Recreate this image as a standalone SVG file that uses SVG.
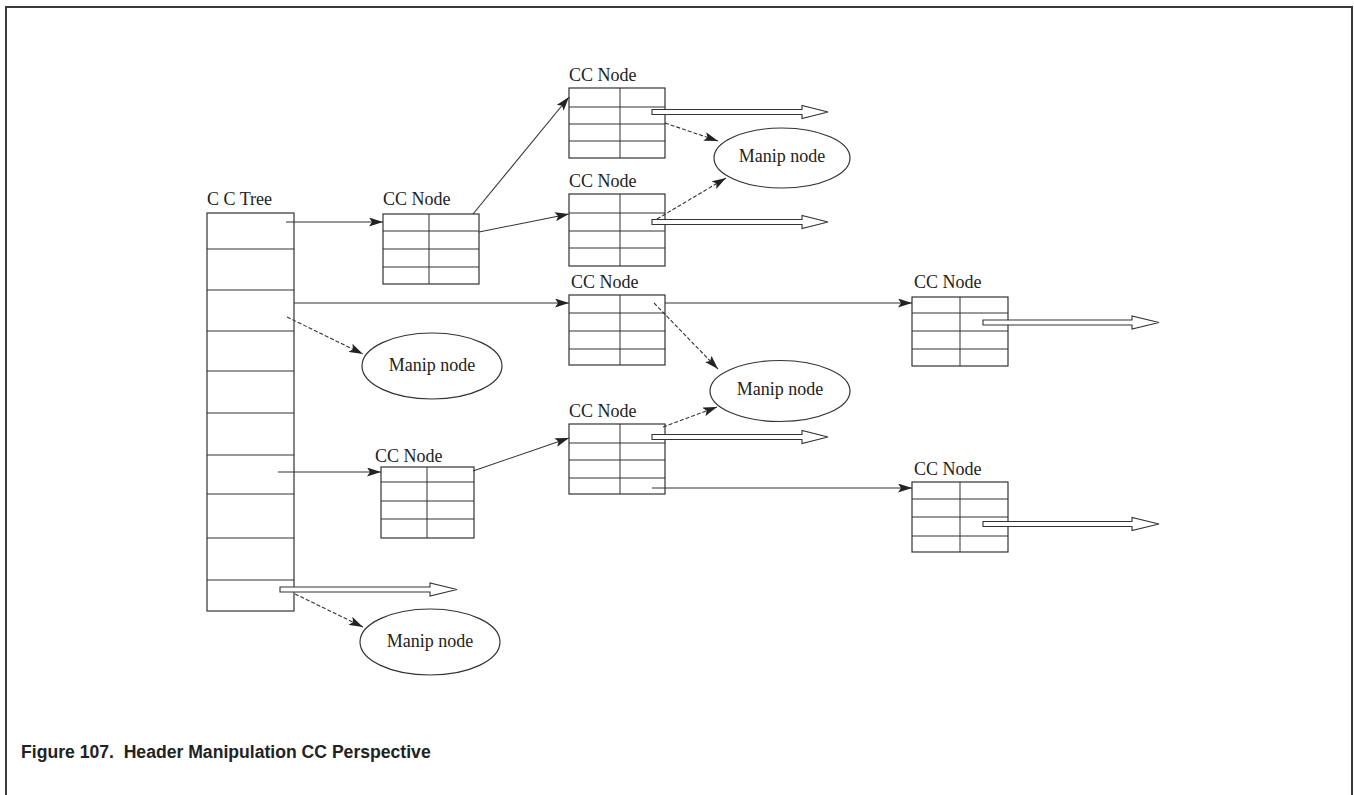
<svg xmlns="http://www.w3.org/2000/svg" width="1354" height="795" viewBox="0 0 1354 795">
<defs>
<style>
.frame{fill:none;stroke:#3a3a3a;stroke-width:2}
.box{fill:#fff;stroke:#333;stroke-width:1.2}
.grid{stroke:#333;stroke-width:1;fill:none}
.lbl{font-family:"Liberation Serif","Times New Roman",serif;font-size:18px;fill:#222}
.mid{text-anchor:middle}
.ell{fill:#fff;stroke:#333;stroke-width:1.2}
.conn{stroke:#333;stroke-width:1.1;fill:none;marker-end:url(#ah)}
.dash{stroke-dasharray:4 2}
.hollow{fill:#fff;stroke:#333;stroke-width:1.1}
.cap{font-family:"Liberation Sans",Arial,sans-serif;font-size:17.6px;font-weight:bold;fill:#222}
</style>
<marker id="ah" viewBox="0 0 14 9" refX="14" refY="4.5" markerWidth="14" markerHeight="9" markerUnits="userSpaceOnUse" orient="auto">
<path d="M0,0 L14,4.5 L0,9 L3,4.5 Z" fill="#222"/>
</marker>
</defs>
<rect width="1354" height="795" fill="#fff"/>
<path class="frame" d="M6,795 V7 H1352 V795"/>

<g id="cc-tree">
<text class="lbl" x="207" y="205">C C Tree</text>
<rect class="box" x="207" y="213" width="87" height="398"/>
<path class="grid" d="M207,249H294M207,290H294M207,331H294M207,371H294M207,413H294M207,455H294M207,494H294M207,538H294M207,580H294"/>
</g>

<g id="cc-node-1">
<text class="lbl" x="383" y="205">CC Node</text>
<rect class="box" x="383" y="214" width="96" height="70"/>
<path class="grid" d="M429,214V284M383,231H479M383,249H479M383,267H479"/>
</g>

<g id="cc-node-top">
<text class="lbl" x="569" y="81">CC Node</text>
<rect class="box" x="569" y="88" width="96" height="70"/>
<path class="grid" d="M620,88V158M569,107H665M569,124H665M569,141H665"/>
</g>

<g id="cc-node-2">
<text class="lbl" x="569" y="187">CC Node</text>
<rect class="box" x="569" y="194" width="96" height="72"/>
<path class="grid" d="M620,194V266M569,213H665M569,231H665M569,248H665"/>
</g>

<g id="cc-node-3">
<text class="lbl" x="571" y="288">CC Node</text>
<rect class="box" x="569" y="295" width="96" height="70"/>
<path class="grid" d="M620,295V365M569,313H665M569,331H665M569,349H665"/>
</g>

<g id="cc-node-4">
<text class="lbl" x="569" y="417">CC Node</text>
<rect class="box" x="569" y="424" width="96" height="70"/>
<path class="grid" d="M620,424V494M569,443H665M569,460H665M569,478H665"/>
</g>

<g id="cc-node-5">
<text class="lbl" x="914" y="288">CC Node</text>
<rect class="box" x="912" y="297" width="96" height="69"/>
<path class="grid" d="M960,297V366M912,313H1008M912,331H1008M912,349H1008"/>
</g>

<g id="cc-node-6">
<text class="lbl" x="914" y="475">CC Node</text>
<rect class="box" x="912" y="482" width="96" height="70"/>
<path class="grid" d="M960,482V552M912,499H1008M912,517H1008M912,536H1008"/>
</g>

<g id="cc-node-7">
<text class="lbl" x="375" y="462">CC Node</text>
<rect class="box" x="381" y="467" width="93" height="71"/>
<path class="grid" d="M427,467V538M381,482H474M381,501H474M381,519H474"/>
</g>

<g id="manip-top">
<ellipse class="ell" cx="782" cy="158" rx="68" ry="30"/>
<text class="lbl mid" x="782" y="162">Manip node</text>
</g>
<g id="manip-mid">
<ellipse class="ell" cx="780" cy="391" rx="70" ry="30.5"/>
<text class="lbl mid" x="780" y="395">Manip node</text>
</g>
<g id="manip-left">
<ellipse class="ell" cx="432" cy="366" rx="70" ry="33"/>
<text class="lbl mid" x="432" y="371">Manip node</text>
</g>
<g id="manip-bottom">
<ellipse class="ell" cx="430" cy="642" rx="70" ry="33"/>
<text class="lbl mid" x="430" y="647">Manip node</text>
</g>

<g id="connectors">
<path class="conn" d="M286,222H383"/>
<path class="conn" d="M473,214L569,97"/>
<path class="conn" d="M479,232L569,214"/>
<path class="conn" d="M294,303H569"/>
<path class="conn" d="M665,303H912"/>
<path class="conn" d="M278,472H381"/>
<path class="conn" d="M473,471L569,438"/>
<path class="conn" d="M652,488H912"/>
<path class="conn dash" d="M287,317L363,354"/>
<path class="conn dash" d="M295,594L363,627"/>
<path class="conn dash" d="M665,123L718,141"/>
<path class="conn dash" d="M657,219L726,178"/>
<path class="conn dash" d="M654,303L718,369"/>
<path class="conn dash" d="M663,427L717,407"/>
<path class="hollow" d="M652,109.5H802V105.5L828,112L802,118.5V114.5H652Z"/>
<path class="hollow" d="M652,219.5H802V215.5L828,222L802,228.5V224.5H652Z"/>
<path class="hollow" d="M652,434.5H802V430.5L828,437L802,443.5V439.5H652Z"/>
<path class="hollow" d="M983,320H1132V316L1159,322.5L1132,329V325H983Z"/>
<path class="hollow" d="M983,521.5H1132V517.5L1159,524L1132,530.5V526.5H983Z"/>
<path class="hollow" d="M280,587H430V583L457,589.5L430,596V592H280Z"/>
</g>

<text class="cap" x="21" y="758" xml:space="preserve">Figure 107.  Header Manipulation CC Perspective</text>
</svg>
